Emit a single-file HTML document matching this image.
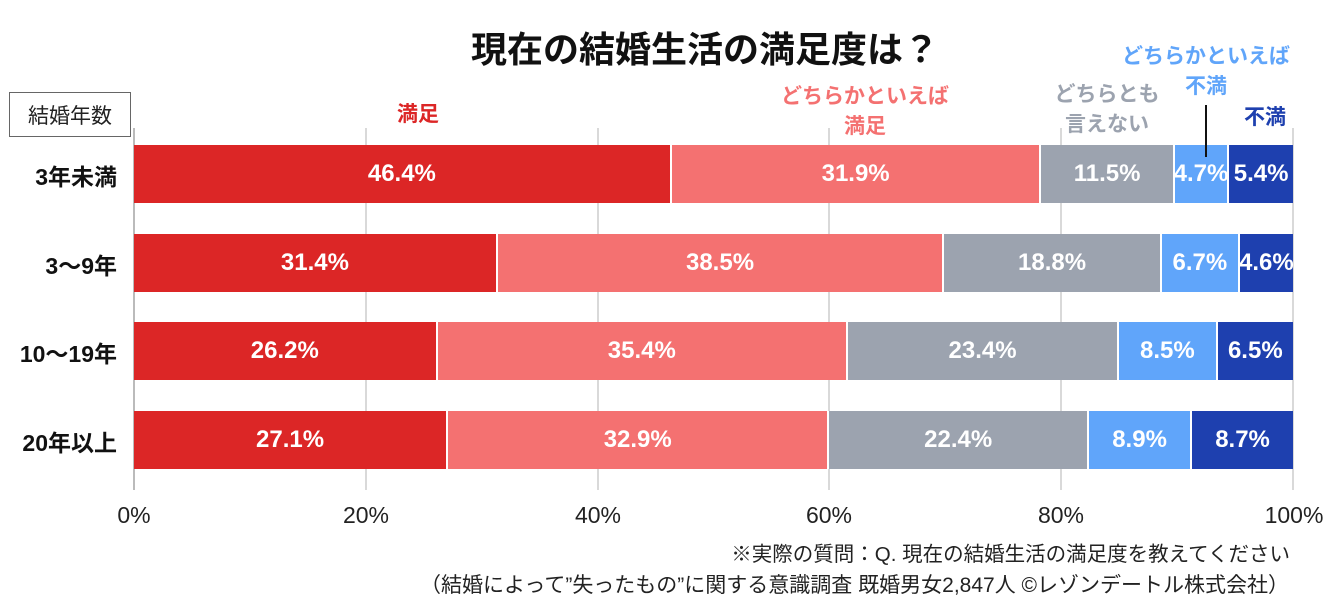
<!DOCTYPE html><html><head><meta charset="utf-8"><style>
body{margin:0;width:1329px;height:610px;background:#fff;position:relative;overflow:hidden;font-family:"Liberation Sans","Noto Sans CJK JP",sans-serif}
.a{position:absolute}
.g{position:absolute;top:128px;height:362px;width:2px;background:#d9d9d9}
.row{position:absolute;left:134px;width:1159px;height:58px;display:flex}
.row div{height:100%;display:flex;align-items:center;justify-content:center;color:#fff;font-weight:bold;font-size:24px;box-sizing:border-box;border-right:2px solid #fff;white-space:nowrap;overflow:visible}
.row div:last-child{border-right:none}
.c1{background:#DC2626}.c2{background:#F47171}.c3{background:#9CA3AF}.c4{background:#60A5FA}.c5{background:#1E40AF}
.rl{position:absolute;right:1212px;font-weight:bold;font-size:23px;color:#111;white-space:nowrap}
.h{position:absolute;font-weight:bold;font-size:21px;text-align:center;line-height:30px;transform:translateX(-50%);white-space:nowrap}
.t{position:absolute;top:502px;font-size:23px;color:#222;transform:translateX(-50%)}
</style></head><body>
<div class="a" style="left:0;width:1410px;top:21px;text-align:center;font-weight:bold;font-size:36px;color:#111">現在の結婚生活の満足度は？</div>
<div class="a" style="left:9px;top:92px;width:122px;height:45px;border:1px solid #666;box-sizing:border-box;font-size:21px;display:flex;align-items:center;justify-content:center;color:#222">結婚年数</div>
<div class="h" style="left:418px;top:100px;color:#DC2626">満足</div>
<div class="h" style="left:865px;top:82px;color:#F47171">どちらかといえば<br>満足</div>
<div class="h" style="left:1107px;top:80px;color:#9CA3AF">どちらとも<br>言えない</div>
<div class="h" style="left:1206px;top:42px;color:#60A5FA">どちらかといえば<br>不満</div>
<div class="h" style="left:1265px;top:103px;color:#1E40AF">不満</div>
<div class="g" style="left:133px;background:#bbb"></div>
<div class="g" style="left:365px"></div><div class="g" style="left:597px"></div><div class="g" style="left:828px"></div><div class="g" style="left:1060px"></div><div class="g" style="left:1292px"></div>
<div class="row" style="top:145px"><div class="c1" style="width:46.4%">46.4%</div><div class="c2" style="width:31.9%">31.9%</div><div class="c3" style="width:11.5%">11.5%</div><div class="c4" style="width:4.7%">4.7%</div><div class="c5" style="width:5.5%">5.4%</div></div>
<div class="row" style="top:234px"><div class="c1" style="width:31.4%">31.4%</div><div class="c2" style="width:38.5%">38.5%</div><div class="c3" style="width:18.8%">18.8%</div><div class="c4" style="width:6.7%">6.7%</div><div class="c5" style="width:4.6%">4.6%</div></div>
<div class="row" style="top:322px"><div class="c1" style="width:26.2%">26.2%</div><div class="c2" style="width:35.4%">35.4%</div><div class="c3" style="width:23.4%">23.4%</div><div class="c4" style="width:8.5%">8.5%</div><div class="c5" style="width:6.5%">6.5%</div></div>
<div class="row" style="top:411px"><div class="c1" style="width:27.1%">27.1%</div><div class="c2" style="width:32.9%">32.9%</div><div class="c3" style="width:22.4%">22.4%</div><div class="c4" style="width:8.9%">8.9%</div><div class="c5" style="width:8.7%">8.7%</div></div>
<div class="a" style="left:1205px;top:105px;width:2px;height:52px;background:#111"></div>
<div class="rl" style="top:158px">3年未満</div>
<div class="rl" style="top:247px">3～9年</div>
<div class="rl" style="top:335px">10～19年</div>
<div class="rl" style="top:424px">20年以上</div>
<div class="t" style="left:134px">0%</div><div class="t" style="left:366px">20%</div><div class="t" style="left:598px">40%</div><div class="t" style="left:829px">60%</div><div class="t" style="left:1061px">80%</div><div class="t" style="left:1294px">100%</div>
<div class="a" style="right:39px;top:537px;font-size:20.5px;color:#222;white-space:nowrap">※実際の質問：Q. 現在の結婚生活の満足度を教えてください</div>
<div class="a" style="right:40px;top:569px;font-size:21px;color:#222;white-space:nowrap">（結婚によって”失ったもの”に関する意識調査 既婚男女2,847人 ©レゾンデートル株式会社）</div>
</body></html>
